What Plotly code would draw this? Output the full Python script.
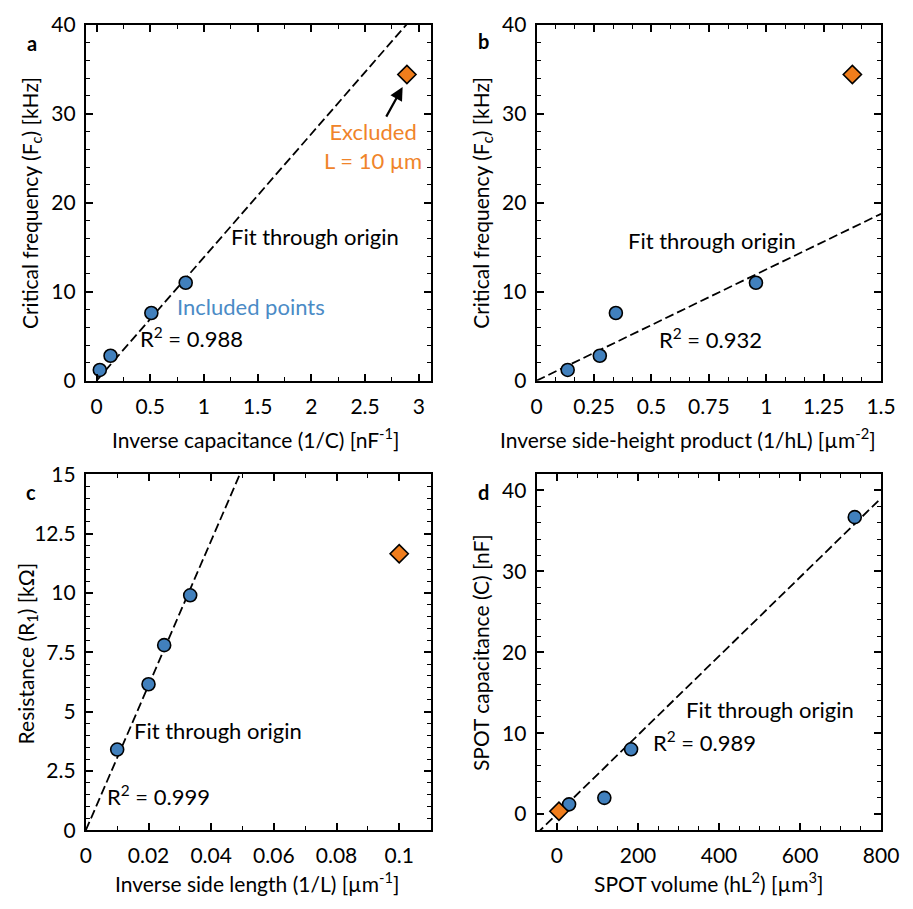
import plotly.graph_objects as go

# ---------------- data ----------------
# Panel a: critical frequency vs inverse capacitance
a_x = [0.03, 0.13, 0.51, 0.83]
a_y = [1.2, 2.8, 7.6, 11.0]
a_ex_x = [2.89]
a_ex_y = [34.4]

# Panel b: critical frequency vs inverse side-height product
b_x = [0.135, 0.275, 0.345, 0.955]
b_y = [1.2, 2.8, 7.6, 11.0]
b_ex_x = [1.375]
b_ex_y = [34.4]

# Panel c: resistance vs inverse side length
c_x = [0.01, 0.02, 0.025, 0.0333]
c_y = [3.4, 6.15, 7.8, 9.9]
c_ex_x = [0.1]
c_ex_y = [11.65]

# Panel d: capacitance vs volume
d_x = [30, 117, 183, 735]
d_y = [1.2, 2.0, 8.0, 36.7]
d_ex_x = [5]
d_ex_y = [0.35]

r2_labels = ["R<sup>2</sup> = 0.988", "R<sup>2</sup> = 0.932",
             "R<sup>2</sup> = 0.999", "R<sup>2</sup> = 0.989"]

x_titles = ["Inverse capacitance (1/C) [nF<sup>-1</sup>]",
            "Inverse side-height product (1/hL) [µm<sup>-2</sup>]",
            "Inverse side length (1/L) [µm<sup>-1</sup>]",
            "SPOT volume (hL<sup>2</sup>) [µm<sup>3</sup>]"]
y_titles = ["Critical frequency (F<sub>c</sub>) [kHz]",
            "Critical frequency (F<sub>c</sub>) [kHz]",
            "Resistance (R<sub>1</sub>) [kΩ]",
            "SPOT capacitance (C) [nF]"]

BLUE = "#4180bd"
BLUE_TXT = "#4b8bc6"
ORANGE = "#f07d1c"
ORANGE_TXT = "#f0842a"
FONT = "Lato, 'Open Sans', sans-serif"


def origin_slope(xs, ys):
    return sum(x * y for x, y in zip(xs, ys)) / sum(x * x for x in xs)


fig = go.Figure()

panels = [
    dict(x=a_x, y=a_y, ex=a_ex_x, ey=a_ex_y, xr=[-0.1, 3.11], yr=[0, 40], line_x0=0),
    dict(x=b_x, y=b_y, ex=b_ex_x, ey=b_ex_y, xr=[0, 1.5], yr=[0, 40], line_x0=0),
    dict(x=c_x, y=c_y, ex=c_ex_x, ey=c_ex_y, xr=[0, 0.11], yr=[0, 15], line_x0=0),
    dict(x=d_x, y=d_y, ex=d_ex_x, ey=d_ex_y, xr=[-50, 800], yr=[-2, 42], line_x0=-50),
]

for i, p in enumerate(panels):
    suf = "" if i == 0 else str(i + 1)
    xa, ya = "x" + suf, "y" + suf
    k = origin_slope(p["x"], p["y"])
    lx = [p["line_x0"], p["xr"][1]]
    fig.add_trace(go.Scatter(x=lx, y=[k * v for v in lx], mode="lines",
                             line=dict(color="black", width=1.8, dash="9px,4px"),
                             xaxis=xa, yaxis=ya, showlegend=False, hoverinfo="skip"))
    fig.add_trace(go.Scatter(x=p["x"], y=p["y"], mode="markers",
                             marker=dict(symbol="circle", size=13, color=BLUE,
                                         line=dict(color="black", width=1.6)),
                             xaxis=xa, yaxis=ya, showlegend=False, cliponaxis=False))
    fig.add_trace(go.Scatter(x=p["ex"], y=p["ey"], mode="markers",
                             marker=dict(symbol="diamond", size=14, color=ORANGE,
                                         line=dict(color="black", width=1.6)),
                             xaxis=xa, yaxis=ya, showlegend=False, cliponaxis=False))

# domains (paper coords, zero margins)
W, H = 913, 909
def xd(l, r):
    return [l / W, r / W]
def yd(t, b):
    return [1 - b / H, 1 - t / H]

TICKFONT = dict(family=FONT, size=21, color="black")

def axis(dom, rng, dtick, minor, anchor, is_x):
    return dict(domain=dom, range=rng, dtick=dtick, tick0=0, anchor=anchor,
                showgrid=False, zeroline=False, showline=True, linecolor="black",
                linewidth=2, mirror="allticks", ticks="inside", ticklen=7,
                tickwidth=1.5, tickcolor="black", tickfont=TICKFONT,
                ticklabeloverflow="allow",
                ticklabelstandoff=6 if is_x else 4,
                minor=dict(dtick=minor, tick0=0, ticks="inside", ticklen=4,
                           tickwidth=1, tickcolor="black", showgrid=False))

top = yd(11, 377)
bot = yd(473.3, 839.3)
left = xd(82, 436)
right = xd(545, 898.7)

fig.update_layout(
    width=W, height=H, margin=dict(l=0, r=0, t=0, b=0),
    paper_bgcolor="white", plot_bgcolor="white",
    font=dict(family=FONT, color="black"),
    xaxis=axis(left, panels[0]["xr"], 0.5, 0.25, "y", True),
    yaxis=axis(top, panels[0]["yr"], 10, 2, "x", False),
    xaxis2=axis(right, panels[1]["xr"], 0.25, 0.25 / 3, "y2", True),
    yaxis2=axis(top, panels[1]["yr"], 10, 2, "x2", False),
    xaxis3=axis(left, panels[2]["xr"], 0.02, 0.01, "y3", True),
    yaxis3=axis(bot, panels[2]["yr"], 2.5, 0.5, "x3", False),
    xaxis4=axis(right, panels[3]["xr"], 200, 50, "y4", True),
    yaxis4=axis(bot, panels[3]["yr"], 10, 2, "x4", False),
)

ann = []
def text(xref, yref, x, y, t, color="black", size=22):
    ann.append(dict(xref=xref, yref=yref, x=x, y=y, text=t, showarrow=False,
                    font=dict(family=FONT, size=size, color=color),
                    xanchor="center", yanchor="middle"))

def ptext(px, py, t, angle=0, size=21):
    ann.append(dict(xref="paper", yref="paper", x=px / W, y=1 - py / H, text=t,
                    showarrow=False, textangle=angle,
                    font=dict(family=FONT, size=size, color="black"),
                    xanchor="center", yanchor="middle"))

# axis titles
for t, (px, py) in zip(x_titles, [(257, 436), (700, 436), (258, 893), (721, 893)]):
    ptext(px, py, t)
for t, (px, py) in zip(y_titles, [(25, 194), (488, 194), (21, 657), (488, 657)]):
    ptext(px, py, t, angle=-90)

# panel a
text("x", "y", 2.03, 16.2, "Fit through origin")
text("x", "y", 1.44, 8.3, "Included points", BLUE_TXT)
text("x", "y", 0.88, 4.8, r2_labels[0])
text("x", "y", 2.57, 26.4, "Excluded<br>L = 10 µm", ORANGE_TXT)
ann.append(dict(xref="x", yref="y", axref="x", ayref="y", x=2.85, y=33.0,
                ax=2.69, ay=29.5, text="", showarrow=True, arrowhead=2,
                arrowsize=1.2, arrowwidth=2.2, arrowcolor="black"))
# panel b
text("x2", "y2", 0.765, 15.8, "Fit through origin")
text("x2", "y2", 0.758, 4.77, r2_labels[1])
# panel c
text("x3", "y3", 0.0422, 4.21, "Fit through origin")
text("x3", "y3", 0.0231, 1.48, r2_labels[2])
# panel d
text("x4", "y4", 527, 12.9, "Fit through origin")
text("x4", "y4", 363, 9.0, r2_labels[3])

# panel letters
for lt, px, py in [("a", 27, 30), ("b", 490, 28), ("c", 26, 492), ("d", 490, 492)]:
    ptext(px, py, "<b>%s</b>" % lt, size=20)

fig.update_layout(annotations=ann)
fig.write_html("out.html")
